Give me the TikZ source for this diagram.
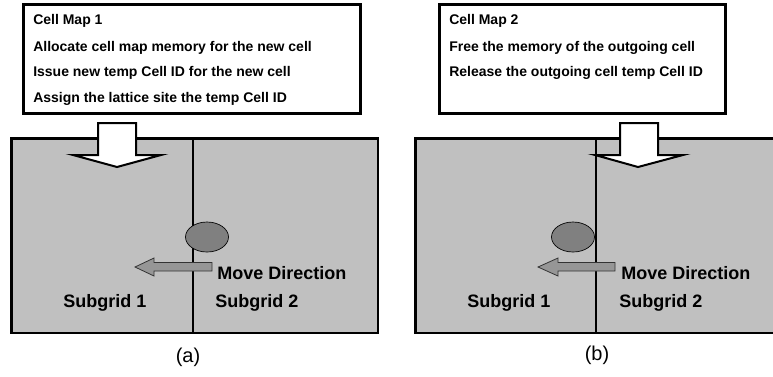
\documentclass[tikz,border=0pt]{standalone}
\usepackage{fontspec}
\setmainfont{Liberation Sans}
\usepackage{xcolor}
\definecolor{gridgray}{RGB}{192,192,192}
\definecolor{cellgray}{RGB}{128,128,128}
\definecolor{movegray}{RGB}{150,150,150}

\tikzset{
  mapbox/.style={draw=black,line width=2.25pt,fill=white},
  gridbox/.style={draw=black,line width=2pt,fill=gridgray},
  divider/.style={draw=black,line width=1.1pt},
  blockarrow/.style={draw=black,line width=1.5pt,fill=white,line join=miter},
  cellshape/.style={draw=black,line width=0.5pt,fill=cellgray},
  movearrow/.style={draw=black!80,line width=0.6pt,fill=movegray},
  maptext/.style={anchor=west,inner sep=0pt,font=\fontsize{10.5}{12}\selectfont\bfseries},
  gridtext/.style={anchor=west,inner sep=0pt,font=\fontsize{13.5}{16}\selectfont\bfseries},
  caption/.style={inner sep=0pt,font=\fontsize{15}{18}\selectfont}
}

\begin{document}
\begin{tikzpicture}[x=0.75pt,y=0.75pt,yscale=-1,xscale=1]
\clip (0,0) rectangle (773,376);

%Shape: Rectangle (grid a)
\draw [gridbox] (11.5,138.5) rectangle (378,333) ;
%Straight Lines (divider a)
\draw [divider] (193,138.5) -- (193,333) ;
%Shape: Rectangle (grid b)
\draw [gridbox] (415.5,138.5) rectangle (782,333) ;
%Straight Lines (divider b)
\draw [divider] (596,138.5) -- (596,333) ;

%Shape: Rectangle (cell map 1)
\draw [mapbox] (23.5,4.5) rectangle (360.5,113.5) ;
%Shape: Rectangle (cell map 2)
\draw [mapbox] (439.5,4.5) rectangle (725.5,113.5) ;

%Shape: Block Arrow (a)
\draw [blockarrow] (98,123) -- (136,123) -- (136,155) -- (161,155) -- (117,167) -- (73,155) -- (98,155) -- cycle ;
%Shape: Block Arrow (b)
\draw [blockarrow] (620,123) -- (658,123) -- (658,155) -- (683,155) -- (638,167) -- (595,155) -- (620,155) -- cycle ;

%Shape: Ellipse (a)
\draw [cellshape] (207,237) ellipse (21.5 and 15) ;
%Shape: Ellipse (b)
\draw [cellshape] (573,237) ellipse (21.5 and 15) ;

%Shape: Left Arrow (a)
\draw [movearrow] (212,262.5) -- (154,262.5) -- (154,258) -- (135,267) -- (154,276) -- (154,271) -- (212,271) -- cycle ;
%Shape: Left Arrow (b)
\draw [movearrow] (615,262.5) -- (558,262.5) -- (558,258) -- (538,267) -- (558,276) -- (558,271) -- (615,271) -- cycle ;

% Text Node
\node [maptext] (mapAtitle) at (33,21) {Cell Map 1};
% Text Node
\node [maptext] (mapAone) at (33,47.5) {Allocate cell map memory for the new cell};
% Text Node
\node [maptext] (mapAtwo) at (33,73) {Issue new temp Cell ID for the new cell};
% Text Node
\node [maptext] (mapAthree) at (33,99) {Assign the lattice site the temp Cell ID};
% Text Node
\node [maptext] (mapBtitle) at (449,21) {Cell Map 2};
% Text Node
\node [maptext] (mapBone) at (449,47.5) {Free the memory of the outgoing cell};
% Text Node
\node [maptext] (mapBtwo) at (449,73) {Release the outgoing cell temp Cell ID};

% Text Node
\node [gridtext] (moveA) at (217,273) {Move Direction};
% Text Node
\node [gridtext] (subAone) at (63,303) {Subgrid 1};
% Text Node
\node [gridtext] (subAtwo) at (215,303) {Subgrid 2};
% Text Node
\node [gridtext] (moveB) at (621,273) {Move Direction};
% Text Node
\node [gridtext] (subBone) at (467,303) {Subgrid 1};
% Text Node
\node [gridtext] (subBtwo) at (619,303) {Subgrid 2};

% Text Node
\node [caption] (capA) at (188,357) {(a)};
% Text Node
\node [caption] (capB) at (597,355) {(b)};

\end{tikzpicture}
\end{document}
